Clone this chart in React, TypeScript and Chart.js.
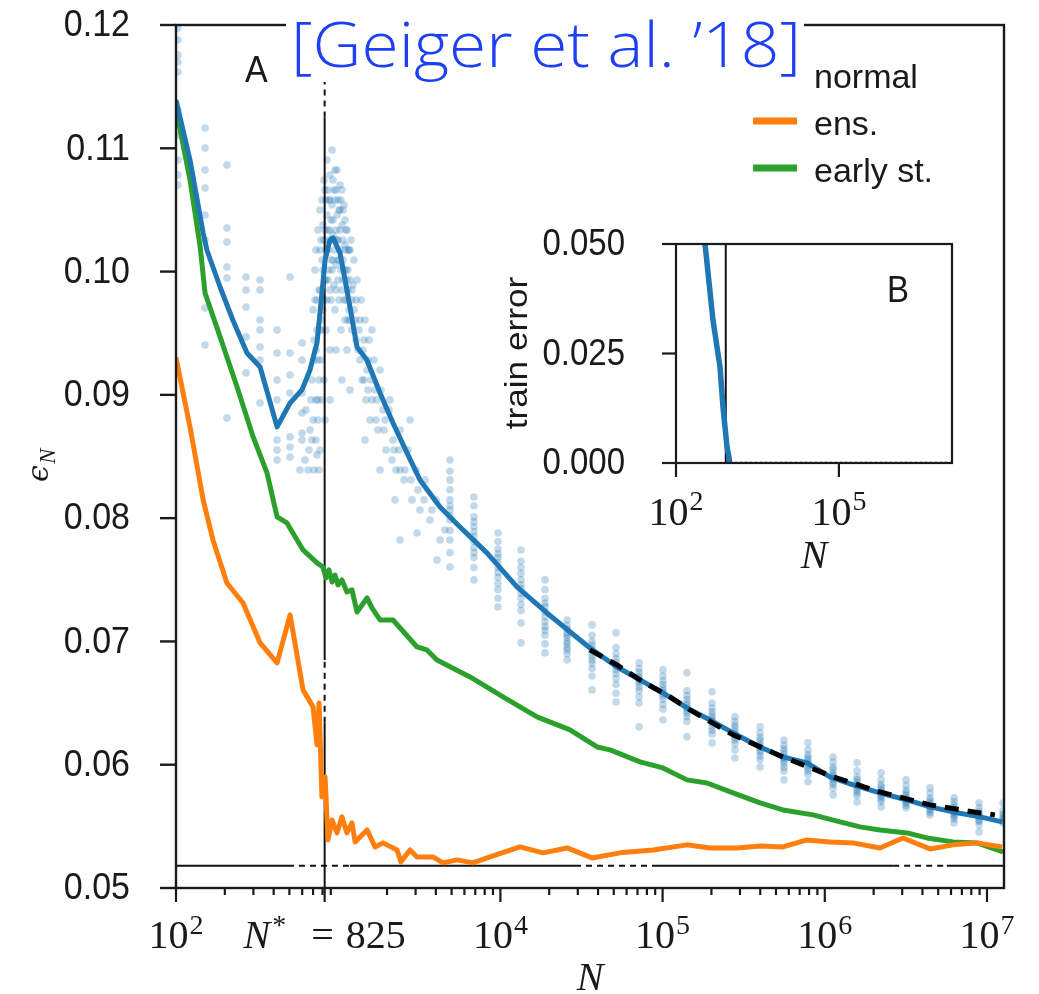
import React, { useEffect, useRef } from "react";
import { Chart, registerables } from "chart.js";

Chart.register(...registerables);

const BLUE = "#1f77b4";
const ORANGE = "#ff7f0e";
const GREEN = "#2ca02c";
const INK = "#1a1a1a";
const SCATTER = "rgba(31,119,180,0.28)";

// ---------- main panel A: test error eps_N vs N ----------
const blueN = [100, 122, 147, 155, 187, 224, 274, 330, 420, 505, 598, 670, 740, 794, 830, 889, 929, 1026, 1132, 1306, 1503, 1811, 2178, 2655, 3192, 4246, 5636, 8260, 12650, 19360, 35650, 52360, 72610, 100500, 141300, 195900, 271600, 399000, 552100, 776200, 1076000, 1493000, 2188000, 3214000, 4457000, 6166000, 9057000, 12390000];
const blueErr = [0.11392, 0.10905, 0.10313, 0.10175, 0.09875, 0.09607, 0.0934, 0.09226, 0.0874, 0.08934, 0.0904, 0.09202, 0.09421, 0.09826, 0.10094, 0.10256, 0.10273, 0.10151, 0.09851, 0.09388, 0.09283, 0.09015, 0.08772, 0.08529, 0.0831, 0.08091, 0.07929, 0.07718, 0.07442, 0.07231, 0.06947, 0.06793, 0.06688, 0.06582, 0.06461, 0.06363, 0.06258, 0.06144, 0.06063, 0.06015, 0.05901, 0.05836, 0.05771, 0.05714, 0.05658, 0.05617, 0.05577, 0.05536];

const greenN = [100, 122, 141, 151, 187, 238, 299, 364, 420, 483, 607, 740, 805, 841, 877, 916, 955, 998, 1054, 1132, 1216, 1306, 1403, 1507, 1614, 1811, 2178, 3062, 3524, 4064, 6501, 10380, 16830, 26850, 39450, 47420, 72610, 100500, 141300, 187900, 271600, 399000, 552100, 845300, 1242000, 1648000, 2188000, 3214000, 4266000, 6166000, 8670000, 12560000];
const greenErr = [0.1132, 0.10743, 0.102, 0.09826, 0.0947, 0.09064, 0.08659, 0.08367, 0.0801, 0.07961, 0.07742, 0.07637, 0.07604, 0.07515, 0.0758, 0.07482, 0.07539, 0.07458, 0.07499, 0.07401, 0.07418, 0.07239, 0.07296, 0.07353, 0.07272, 0.07174, 0.07174, 0.06955, 0.06931, 0.0685, 0.06712, 0.0655, 0.06388, 0.06282, 0.06144, 0.0612, 0.06023, 0.05974, 0.05877, 0.05852, 0.05771, 0.0569, 0.05633, 0.05593, 0.05536, 0.05496, 0.05471, 0.05447, 0.05406, 0.05374, 0.05366, 0.05293];

const orangeN = [100, 122, 147, 169, 206, 259, 330, 420, 505, 607, 700, 740, 762, 794, 830, 865, 916, 984, 1054, 1132, 1216, 1271, 1507, 1687, 1888, 2307, 2438, 2773, 3062, 3837, 4426, 5395, 6776, 8630, 13210, 18320, 25760, 36730, 54580, 87300, 141300, 195900, 287700, 399000, 552100, 776200, 1076000, 1493000, 2188000, 3034000, 4457000, 6166000, 8670000, 12390000];
const orangeErr = [0.093, 0.0874, 0.08148, 0.07823, 0.07474, 0.07312, 0.06988, 0.06826, 0.07215, 0.06607, 0.06469, 0.06161, 0.06501, 0.05739, 0.05901, 0.0539, 0.05552, 0.05447, 0.05577, 0.05447, 0.05528, 0.05374, 0.05471, 0.05333, 0.05366, 0.05309, 0.05212, 0.05309, 0.05252, 0.05252, 0.05204, 0.05228, 0.05204, 0.05252, 0.05333, 0.05285, 0.05325, 0.05244, 0.05285, 0.05309, 0.0535, 0.05325, 0.05325, 0.05341, 0.05333, 0.0539, 0.05374, 0.05366, 0.05325, 0.05406, 0.05317, 0.0535, 0.05366, 0.05333];

const fitN = [35650, 52360, 75680, 106400, 147600, 271600, 552100, 1125000, 2188000, 4457000, 9057000, 11190000];
const fitErr = [0.06931, 0.06809, 0.06672, 0.06566, 0.06444, 0.06242, 0.06063, 0.05901, 0.05779, 0.05674, 0.05609, 0.05593];

// individual runs (scatter): columns at fixed log10 N
const colExp = [2.012, 2.179, 2.314, 2.432, 2.518, 2.623, 2.703, 2.777, 3.689, 3.837, 3.985, 4.127, 4.275, 4.411, 4.565, 4.713, 4.855, 5.002, 5.15, 5.305, 5.446, 5.601, 5.748, 5.896, 6.051, 6.199, 6.347, 6.501, 6.649, 6.797, 6.951, 7.099];
const colErr = [
  [0.11976, 0.11878, 0.11757, 0.117, 0.11619, 0.11311, 0.11108, 0.10905, 0.10783, 0.10702],
  [0.11165, 0.11002, 0.10824, 0.10678, 0.10459, 0.10256, 0.09705, 0.09405],
  [0.10865, 0.10354, 0.1024, 0.10037, 0.09948, 0.08813],
  [0.09956, 0.09851, 0.09713, 0.0947, 0.09178],
  [0.09932, 0.09851, 0.09607, 0.09526, 0.09388, 0.09283, 0.08934],
  [0.09526, 0.0934, 0.09121, 0.08959, 0.08634, 0.08553, 0.08472],
  [0.09956, 0.0934, 0.09161, 0.09015, 0.08659, 0.08577, 0.08496],
  [0.09421, 0.09283, 0.09015, 0.08853, 0.08691, 0.08634],
  [0.08472, 0.0838, 0.0831, 0.0823, 0.08148, 0.081, 0.08066, 0.0802, 0.07985, 0.079, 0.07823, 0.0772, 0.07604],
  [0.08172, 0.081, 0.0801, 0.0797, 0.0793, 0.0789, 0.0785, 0.0781, 0.0776, 0.0772, 0.0768, 0.076, 0.07499],
  [0.0788, 0.0781, 0.0775, 0.0771, 0.0768, 0.0764, 0.076, 0.0756, 0.0752, 0.0747, 0.0742, 0.0735, 0.0728],
  [0.07742, 0.0765, 0.076, 0.0755, 0.075, 0.0746, 0.0743, 0.0739, 0.0735, 0.073, 0.0725, 0.0715, 0.06988],
  [0.07499, 0.0742, 0.0735, 0.0731, 0.0728, 0.0724, 0.072, 0.0716, 0.0712, 0.0709, 0.0705, 0.0698, 0.06907],
  [0.07174, 0.0713, 0.071, 0.0707, 0.0705, 0.0703, 0.07, 0.0698, 0.0695, 0.0693, 0.069, 0.0685],
  [0.07134, 0.0705, 0.07, 0.0697, 0.0694, 0.0691, 0.0688, 0.0685, 0.0682, 0.0678, 0.0672, 0.06607],
  [0.07069, 0.0695, 0.069, 0.0686, 0.0683, 0.068, 0.0677, 0.0674, 0.067, 0.0665, 0.0658, 0.06509],
  [0.06826, 0.0678, 0.0675, 0.0672, 0.067, 0.0668, 0.0666, 0.0663, 0.066, 0.0655, 0.065, 0.06307],
  [0.06769, 0.0672, 0.0668, 0.0665, 0.0662, 0.066, 0.0658, 0.0656, 0.0653, 0.0649, 0.0645, 0.06363],
  [0.06745, 0.066, 0.0656, 0.0653, 0.065, 0.0648, 0.0646, 0.0644, 0.0642, 0.0639, 0.0635, 0.06226],
  [0.06591, 0.065, 0.0646, 0.0643, 0.064, 0.0638, 0.0636, 0.0634, 0.0631, 0.0628, 0.0625, 0.06177],
  [0.06388, 0.0635, 0.0632, 0.063, 0.0627, 0.0625, 0.0624, 0.0622, 0.062, 0.0617, 0.0612, 0.06055],
  [0.06307, 0.0626, 0.0622, 0.062, 0.0617, 0.0615, 0.0614, 0.0612, 0.061, 0.0607, 0.0604, 0.05982],
  [0.06201, 0.0616, 0.0613, 0.0611, 0.0608, 0.0606, 0.0605, 0.0603, 0.0601, 0.0598, 0.0595, 0.05877],
  [0.06177, 0.0612, 0.0608, 0.0606, 0.0604, 0.0602, 0.0601, 0.0599, 0.0597, 0.0595, 0.0592, 0.05861],
  [0.06063, 0.0602, 0.0598, 0.0596, 0.0593, 0.0591, 0.059, 0.0588, 0.0586, 0.0584, 0.0581, 0.05755],
  [0.06015, 0.0595, 0.059, 0.0588, 0.0586, 0.0584, 0.0583, 0.0581, 0.0579, 0.0577, 0.0575, 0.05698],
  [0.05934, 0.0588, 0.0584, 0.0582, 0.058, 0.0578, 0.0577, 0.0575, 0.0574, 0.0572, 0.057, 0.05658],
  [0.05877, 0.0583, 0.0579, 0.0577, 0.0575, 0.0573, 0.0572, 0.057, 0.0569, 0.0567, 0.0565],
  [0.05812, 0.0577, 0.0573, 0.0571, 0.0569, 0.0567, 0.0566, 0.0564, 0.0563, 0.0561, 0.05593],
  [0.05731, 0.057, 0.0567, 0.0565, 0.0564, 0.0562, 0.0561, 0.0559, 0.0558, 0.0556, 0.05528],
  [0.0569, 0.0565, 0.0562, 0.056, 0.0559, 0.0558, 0.0557, 0.0555, 0.0554, 0.0551, 0.05455],
  [0.0569, 0.0563, 0.056, 0.0558, 0.0557, 0.0555, 0.0554, 0.05528],
];
// individual runs in the cloud around N* (log10 N)
const cloudExp = [2.838, 2.845, 2.851, 2.857, 2.863, 2.869, 2.875, 2.882, 2.888, 2.894, 2.9, 2.906, 2.912, 2.919, 2.925, 2.931, 2.937, 2.943, 2.949, 2.956, 2.962, 2.968, 2.974, 2.98, 2.986, 2.993, 2.999, 3.005, 3.011, 3.017, 3.023, 3.03, 3.036, 3.042, 3.048, 3.054, 3.06, 3.067, 3.073, 3.085, 3.097, 3.11, 3.122, 3.134, 3.147, 3.159, 3.171, 3.184, 3.196, 3.208, 3.227, 3.245, 3.258, 3.276, 3.295, 3.319, 3.338, 3.356, 3.381, 3.406, 3.43, 3.455, 3.48, 3.504, 3.535, 3.566, 3.603, 3.628, 3.258, 3.35, 3.443, 3.165, 3.073, 2.949, 2.919, 2.882, 2.949, 2.968, 2.986, 2.937, 2.98, 2.999, 3.011, 2.962, 2.925, 3.03, 3.042, 3.06, 3.085, 3.11, 3.134, 3.159, 3.184, 3.208, 3.233, 3.282, 3.332, 3.381, 2.888, 2.9, 2.875, 2.863, 2.851, 2.826, 2.814, 2.801, 3.381, 3.486, 3.609];
const cloudErr = [0.09121, 0.08796, 0.09445, 0.0977, 0.10175, 0.08513, 0.09283, 0.09851, 0.105, 0.09607, 0.08959, 0.10013, 0.10743, 0.10337, 0.09526, 0.10905, 0.10175, 0.10581, 0.09851, 0.10418, 0.10986, 0.10094, 0.10662, 0.09689, 0.10337, 0.10824, 0.09932, 0.105, 0.10175, 0.09526, 0.10662, 0.10256, 0.0977, 0.10418, 0.10013, 0.09364, 0.10175, 0.09689, 0.09932, 0.09526, 0.10094, 0.0977, 0.09364, 0.09607, 0.09121, 0.09445, 0.08959, 0.09283, 0.08796, 0.09526, 0.0904, 0.08715, 0.09202, 0.08878, 0.08553, 0.08959, 0.08634, 0.08391, 0.08715, 0.0831, 0.08553, 0.08148, 0.08391, 0.08066, 0.0831, 0.07985, 0.08148, 0.07823, 0.08391, 0.08148, 0.08796, 0.08634, 0.0904, 0.09364, 0.08796, 0.08391, 0.10581, 0.10418, 0.10662, 0.10337, 0.10256, 0.10094, 0.105, 0.10013, 0.09932, 0.09932, 0.09607, 0.09851, 0.0977, 0.09445, 0.09283, 0.09121, 0.0904, 0.08959, 0.08796, 0.08715, 0.08472, 0.08391, 0.10175, 0.09526, 0.08959, 0.08634, 0.08391, 0.08715, 0.08391, 0.08878, 0.07823, 0.0788, 0.07661];
const cloudPairs = [
  [2.894, 0.10256], [2.9, 0.10581], [2.906, 0.10378], [2.912, 0.0977], [2.919, 0.10662], [2.925, 0.10175], [2.931, 0.10459], [2.937, 0.09932], [2.943, 0.10256], [2.949, 0.10783],
  [2.956, 0.10094], [2.962, 0.1054], [2.968, 0.10297], [2.974, 0.09891], [2.98, 0.10581], [2.986, 0.10054], [2.993, 0.10459], [2.999, 0.10256], [3.005, 0.0977], [3.011, 0.10702],
  [3.017, 0.10013], [3.023, 0.10378], [3.03, 0.10094], [3.036, 0.1054], [3.042, 0.10216], [3.048, 0.0977], [3.054, 0.10337], [3.06, 0.10013], [3.067, 0.10175], [3.073, 0.09607],
  [3.079, 0.10256], [3.091, 0.09891], [3.104, 0.09607], [3.116, 0.09932], [3.128, 0.09526], [3.141, 0.0977], [3.153, 0.09364], [3.165, 0.09607], [3.178, 0.09202], [3.19, 0.09445],
  [3.202, 0.09121], [3.221, 0.09283], [3.239, 0.08959], [3.264, 0.0904], [3.289, 0.08796], [3.313, 0.08878], [3.344, 0.08553], [3.375, 0.08553], [3.412, 0.08391], [3.449, 0.0831],
  [3.492, 0.08229], [3.529, 0.08148], [3.578, 0.08066], [3.658, 0.07904], [2.869, 0.09526], [2.882, 0.09121], [2.863, 0.08959], [2.851, 0.09283], [2.832, 0.08959], [2.82, 0.08553],
  [2.795, 0.08472], [2.764, 0.08391], [2.857, 0.10013], [2.875, 0.10337], [2.888, 0.09851],
  [2.9, 0.10094], [2.906, 0.09689], [2.912, 0.10256], [2.919, 0.09932], [2.925, 0.10581], [2.931, 0.0977], [2.937, 0.10662], [2.943, 0.10013], [2.949, 0.10337], [2.956, 0.0977],
  [2.962, 0.10256], [2.968, 0.10743], [2.974, 0.10175], [2.98, 0.10824], [2.986, 0.09851], [2.993, 0.10256], [2.999, 0.10581], [3.005, 0.10094], [3.011, 0.10337], [3.017, 0.10581],
  [3.023, 0.09851], [3.03, 0.105], [3.036, 0.10013], [3.042, 0.10175], [3.048, 0.10337], [3.054, 0.09932], [3.06, 0.09607], [3.073, 0.10175], [3.085, 0.09851], [3.097, 0.09689],
  [2.888, 0.09526], [2.894, 0.09283], [2.875, 0.08796], [2.869, 0.0977], [2.863, 0.09364], [2.845, 0.09689], [2.838, 0.08634], [2.888, 0.08553], [2.912, 0.09121], [2.949, 0.08959],
  [2.986, 0.09364], [3.023, 0.09121],
];

// reference lines
const nStar = 825;
const vlineErr = [0.05, 0.0634, 0.0685, 0.1125, 0.12];
const vlineDashed = [1, 3];
const asymptote = 0.0518;
const hlineN = [100, 490, 1183, 28840, 89700, 2640000, 5660000, 12730000];
const hlineDashed = [1, 3, 5];

// axes
const yTickValues = [0.05, 0.06, 0.07, 0.08, 0.09, 0.1, 0.11, 0.12];
const yTickLabels = ["0.05", "0.06", "0.07", "0.08", "0.09", "0.10", "0.11", "0.12"];
const xMajorValues = [100, 825, 10000, 100000, 1000000, 10000000];
const xMajorExps = ["2", "", "4", "5", "6", "7"];

// ---------- inset B: train error ----------
const trainN = [280, 342, 480, 646, 734, 869, 986];
const trainErr = [0.058, 0.05, 0.0326, 0.0219, 0.0128, 0.0037, 0];
const trainZeroN = [986, 12100000];
const trainZeroErr = [0, 0];
const insetYTicks = [0, 0.025, 0.05];
const insetYLabels = ["0.000", "0.025", "0.050"];
const insetXTicks = [100, 100000];
const insetXExps = ["2", "5"];

const pts = (xs: number[], ys: number[]) => xs.map((x, i) => ({ x, y: ys[i] }));

function line(ctx: CanvasRenderingContext2D, x1: number, y1: number, x2: number, y2: number) {
  ctx.beginPath();
  ctx.moveTo(x1, y1);
  ctx.lineTo(x2, y2);
  ctx.stroke();
}

function txt(
  ctx: CanvasRenderingContext2D,
  s: string,
  x: number,
  y: number,
  font: string,
  align: CanvasTextAlign = "left",
  base: CanvasTextBaseline = "alphabetic",
  sy = 1,
  rot = 0,
  color = INK,
  sx = 1
) {
  ctx.save();
  ctx.translate(x, y);
  ctx.scale(sx, sy);
  if (rot) ctx.rotate(rot);
  ctx.font = font;
  ctx.textAlign = align;
  ctx.textBaseline = base;
  ctx.fillStyle = color;
  ctx.fillText(s, 0, 0);
  ctx.restore();
}

function drawPow(ctx: CanvasRenderingContext2D, base: string, exp: string, cx: number, baseline: number, raise: number) {
  ctx.save();
  ctx.fillStyle = INK;
  ctx.textAlign = "left";
  ctx.textBaseline = "alphabetic";
  ctx.font = '40px "Liberation Serif"';
  const w1 = ctx.measureText(base).width;
  ctx.font = '28px "Liberation Serif"';
  const w2 = ctx.measureText(exp).width;
  const x0 = cx - (w1 + 1 + w2) / 2;
  ctx.font = '40px "Liberation Serif"';
  ctx.fillText(base, x0, baseline);
  ctx.font = '28px "Liberation Serif"';
  ctx.fillText(exp, x0 + w1 + 1, baseline - raise);
  ctx.restore();
}

function drawNStar(ctx: CanvasRenderingContext2D, cx: number, baseline: number, value: number) {
  const parts = [
    { t: "N", f: 'italic 40px "Liberation Serif"', dy: 0, gap: 2 },
    { t: "*", f: '28px "Liberation Serif"', dy: -14, gap: 25 },
    { t: "=", f: '40px "Liberation Serif"', dy: 0, gap: 12 },
    { t: String(value), f: '40px "Liberation Serif"', dy: 0, gap: 0 },
  ];
  ctx.save();
  ctx.fillStyle = INK;
  ctx.textAlign = "left";
  ctx.textBaseline = "alphabetic";
  const widths = parts.map((p) => {
    ctx.font = p.f;
    return ctx.measureText(p.t).width;
  });
  const total = widths.reduce((a, w, i) => a + w + parts[i].gap, 0);
  let x = cx - total / 2;
  parts.forEach((p, i) => {
    ctx.font = p.f;
    ctx.fillText(p.t, x, baseline + p.dy);
    x += widths[i] + p.gap;
  });
  ctx.restore();
}

const SY = 1.1;

const mainDecor = {
  id: "mainDecor",
  afterDraw(chart: any) {
    const { ctx, chartArea: a } = chart;
    const xs = chart.scales.x;
    const ys = chart.scales.y;
    ctx.save();
    ctx.strokeStyle = INK;
    ctx.lineWidth = 2.4;
    ctx.strokeRect(a.left, a.top, a.right - a.left, a.bottom - a.top);

    yTickValues.forEach((v, i) => {
      const py = ys.getPixelForValue(v);
      line(ctx, a.left - 16, py, a.left, py);
      txt(ctx, yTickLabels[i], a.left - 46, py + 1, '34px "Liberation Sans"', "right", "middle", SY);
    });

    ctx.lineWidth = 2.2;
    for (let d = 2; d <= 6; d++) {
      for (let k = 2; k <= 9; k++) {
        const v = k * Math.pow(10, d);
        if (v > xs.max) continue;
        const px = xs.getPixelForValue(v);
        line(ctx, px, a.bottom, px, a.bottom + 7);
      }
    }
    xMajorValues.forEach((v, i) => {
      const px = xs.getPixelForValue(v);
      line(ctx, px, a.bottom, px, a.bottom + 14);
      if (v === nStar) drawNStar(ctx, px, 948, nStar);
      else drawPow(ctx, "10", xMajorExps[i], px, 948, 14);
    });

    txt(ctx, "N", (a.left + a.right) / 2, 990, 'italic 40px "Liberation Serif"', "center");
    txt(ctx, "\u03f5", 48, 482, 'italic 30px "DejaVu Serif"', "left", "alphabetic", 1, -Math.PI / 2);
    txt(ctx, "N", 55, 464, 'italic 23px "Liberation Serif"', "left", "alphabetic", 1, -Math.PI / 2);

    txt(ctx, "A", 245, 82, '34px "Liberation Sans"', "left", "alphabetic", SY);

    ctx.lineWidth = 7;
    ctx.strokeStyle = ORANGE;
    line(ctx, 753, 121, 797, 121);
    ctx.strokeStyle = GREEN;
    line(ctx, 753, 168, 797, 168);
    txt(ctx, "normal", 814, 88, '34px "Liberation Sans"');
    txt(ctx, "ens.", 814, 135, '34px "Liberation Sans"');
    txt(ctx, "early st.", 814, 182, '34px "Liberation Sans"');

    ctx.fillStyle = "#ffffff";
    ctx.fillRect(286, 0, 518, 82);
    const title = "[Geiger et al. \u201918]";
    const tfont = '300 62px "Open Sans"';
    ctx.font = tfont;
    const w = ctx.measureText(title).width;
    txt(ctx, title, 291, 67, tfont, "left", "alphabetic", 1, 0, "#1d3ff5", 510 / w);
    ctx.restore();
  },
};

const insetDecor = {
  id: "insetDecor",
  beforeDatasetsDraw(chart: any) {
    const { ctx, chartArea: a } = chart;
    ctx.save();
    ctx.fillStyle = "#ffffff";
    ctx.fillRect(a.left, a.top, a.right - a.left, a.bottom - a.top);
    ctx.restore();
  },
  afterDraw(chart: any) {
    const { ctx, chartArea: a } = chart;
    const xs = chart.scales.x;
    const ys = chart.scales.y;
    ctx.save();
    ctx.strokeStyle = INK;
    ctx.lineWidth = 2.2;
    ctx.strokeRect(a.left, a.top, a.right - a.left, a.bottom - a.top);
    insetYTicks.forEach((v, i) => {
      const py = ys.getPixelForValue(v);
      line(ctx, a.left - 14, py, a.left, py);
      txt(ctx, insetYLabels[i], a.left - 51, py + 1, '33px "Liberation Sans"', "right", "middle", SY);
    });
    insetXTicks.forEach((v, i) => {
      const px = xs.getPixelForValue(v);
      line(ctx, px, a.bottom, px, a.bottom + 14);
      drawPow(ctx, "10", insetXExps[i], px, a.bottom + 62, 15);
    });
    txt(ctx, "N", (a.left + a.right) / 2, 348, 'italic 40px "Liberation Serif"', "center");
    txt(ctx, "B", 397, 82, '33px "Liberation Sans"', "left", "alphabetic", SY);
    txt(ctx, "train error", 37, 133, '32px "Liberation Sans"', "center", "alphabetic", SY, -Math.PI / 2);
    ctx.restore();
  },
};

export default function App() {
  const mainRef = useRef<HTMLCanvasElement>(null);
  const insetRef = useRef<HTMLCanvasElement>(null);

  useEffect(() => {
    const scatterData: { x: number; y: number }[] = [];
    colExp.forEach((e, i) => colErr[i].forEach((v) => scatterData.push({ x: Math.pow(10, e), y: v })));
    cloudExp.forEach((e, i) => scatterData.push({ x: Math.pow(10, e), y: cloudErr[i] }));
    cloudPairs.forEach(([e, v]) => scatterData.push({ x: Math.pow(10, e), y: v }));

    const lineDs = (label: string, data: any[], color: string, extra: any = {}) => ({
      label,
      data,
      showLine: true,
      borderColor: color,
      backgroundColor: color,
      borderWidth: 5,
      pointRadius: 0,
      borderJoinStyle: "round",
      tension: 0,
      ...extra,
    });

    const main = new Chart(mainRef.current!, {
      type: "scatter",
      data: {
        datasets: [
          lineDs("fit", pts(fitN, fitErr), "#000000", { borderDash: [14, 9], borderJoinStyle: "miter" }),
          lineDs("normal", pts(blueN, blueErr), BLUE),
          lineDs("ens.", pts(orangeN, orangeErr), ORANGE),
          lineDs("early st.", pts(greenN, greenErr), GREEN),
          lineDs("N*", vlineErr.map((v) => ({ x: nStar, y: v })), "#111111", {
            borderWidth: 2,
            segment: { borderDash: (c: any) => (vlineDashed.includes(c.p0DataIndex) ? [6, 5] : undefined) },
          }),
          lineDs("asymptote", hlineN.map((n) => ({ x: n, y: asymptote })), "#111111", {
            borderWidth: 2,
            segment: { borderDash: (c: any) => (hlineDashed.includes(c.p0DataIndex) ? [6, 5] : undefined) },
          }),
          {
            label: "runs",
            data: scatterData,
            showLine: false,
            pointRadius: 3.8,
            pointBackgroundColor: SCATTER,
            pointBorderWidth: 0,
          },
        ] as any,
      },
      options: {
        responsive: false,
        animation: false,
        devicePixelRatio: 1,
        events: [],
        layout: { padding: { top: 25, right: 35, left: 0, bottom: 0 } },
        plugins: { legend: { display: false }, tooltip: { enabled: false }, title: { display: false } },
        scales: {
          x: {
            type: "logarithmic",
            min: 100,
            max: 12730000,
            grid: { display: false },
            border: { display: false },
            ticks: { display: false },
            afterFit: (s: any) => {
              s.height = 106;
            },
          },
          y: {
            type: "linear",
            min: 0.05,
            max: 0.12,
            grid: { display: false },
            border: { display: false },
            ticks: { display: false },
            afterFit: (s: any) => {
              s.width = 176;
            },
          },
        },
      } as any,
      plugins: [mainDecor],
    });

    const inset = new Chart(insetRef.current!, {
      type: "scatter",
      data: {
        datasets: [
          lineDs("train", pts(trainN, trainErr), BLUE, { borderWidth: 5.5 }),
          lineDs("train zero", pts(trainZeroN, trainZeroErr), "rgba(31,119,180,0.75)", { borderWidth: 3, borderDash: [2, 3] }),
          lineDs("N*", [{ x: nStar, y: 0 }, { x: nStar, y: 0.05 }], "#111111", { borderWidth: 2 }),
        ] as any,
      },
      options: {
        responsive: false,
        animation: false,
        devicePixelRatio: 1,
        events: [],
        layout: { padding: { top: 24, right: 18, left: 0, bottom: 0 } },
        plugins: { legend: { display: false }, tooltip: { enabled: false } },
        scales: {
          x: {
            type: "logarithmic",
            min: 100,
            max: 12100000,
            grid: { display: false },
            border: { display: false },
            ticks: { display: false },
            afterFit: (s: any) => {
              s.height = 117;
            },
          },
          y: {
            type: "linear",
            min: 0,
            max: 0.05,
            grid: { display: false },
            border: { display: false },
            ticks: { display: false },
            afterFit: (s: any) => {
              s.width = 186;
            },
          },
        },
      } as any,
      plugins: [insetDecor],
    });

    return () => {
      main.destroy();
      inset.destroy();
    };
  }, []);

  return (
    <div style={{ position: "absolute", left: 0, top: 0, width: 1039, height: 994, background: "#ffffff" }}>
      <canvas ref={mainRef} width={1039} height={994} style={{ position: "absolute", left: 0, top: 0 }} />
      <canvas ref={insetRef} width={480} height={360} style={{ position: "absolute", left: 490, top: 220 }} />
    </div>
  );
}
